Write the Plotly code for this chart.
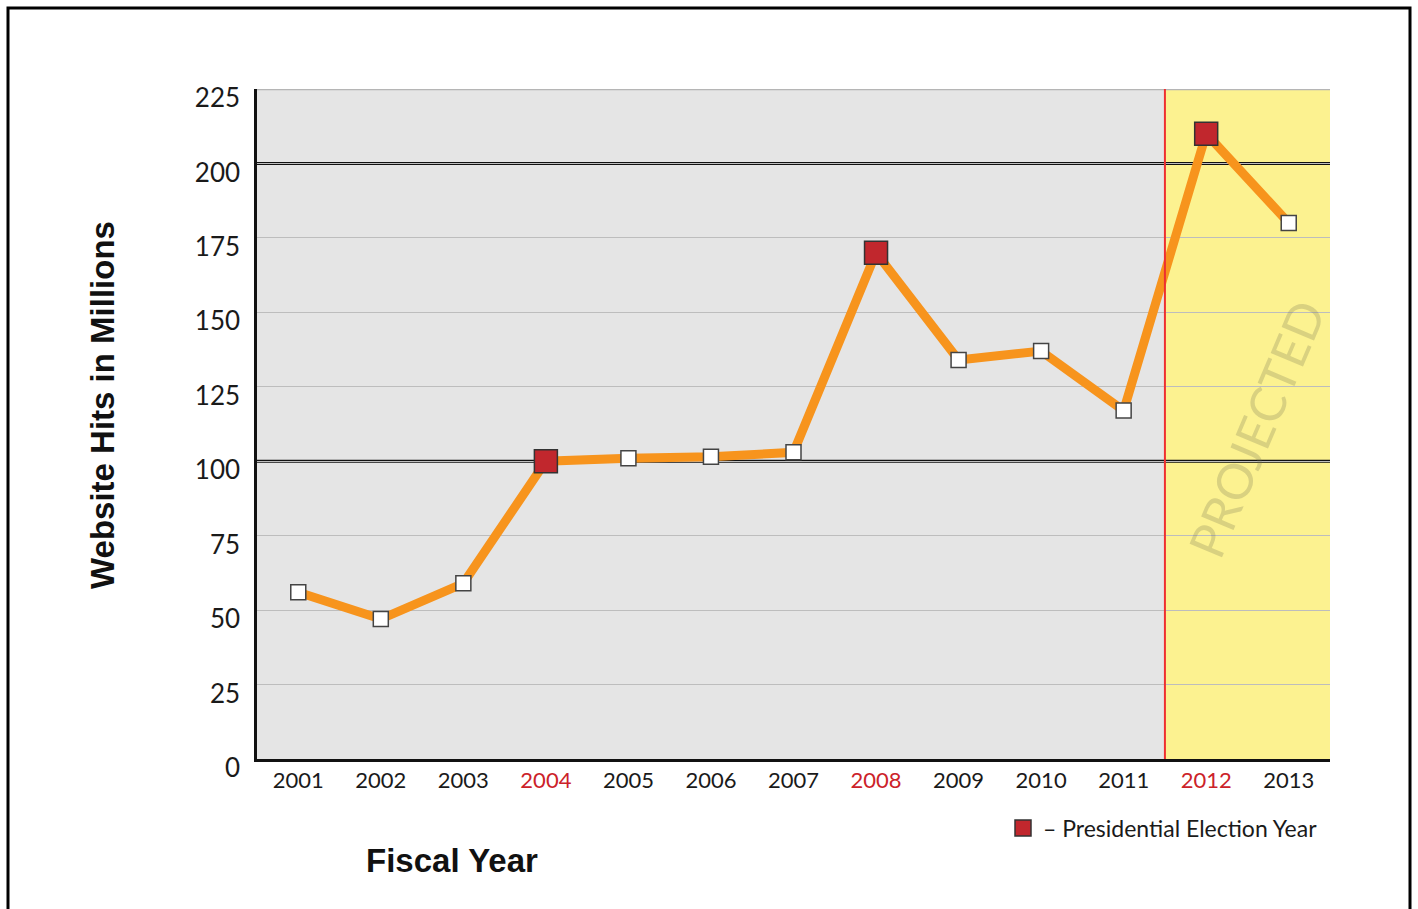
import plotly.graph_objects as go

# ---- data ----
years = [2001, 2002, 2003, 2004, 2005, 2006, 2007, 2008, 2009, 2010, 2011, 2012, 2013]
hits = [56, 47, 59, 100, 101, 101.5, 103, 170, 134, 137, 117, 210, 180]
election_years = [2004, 2008, 2012]
tick_labels = ["2001", "2002", "2003", "2004", "2005", "2006", "2007",
               "2008", "2009", "2010", "2011", "2012", "2013"]
y_ticks = [0, 25, 50, 75, 100, 125, 150, 175, 200, 225]
projection_start = 2011.5

RED = "#cc2229"
ORANGE = "#f7941d"

# ---- layout helpers (pixels -> paper) ----
W, H = 1418, 909
ML, MR, MT, MB = 257, 88, 89, 150
PW, PH = W - ML - MR, H - MT - MB


def px(x):
    return (x - ML) / PW


def py(y):
    return (H - MB - y) / PH


elec_set = set(election_years)
reg_x = [x for x in years if x not in elec_set]
reg_y = [v for x, v in zip(years, hits) if x not in elec_set]
el_x = [x for x in years if x in elec_set]
el_y = [v for x, v in zip(years, hits) if x in elec_set]

ticktext = [
    f'<span style="color:{RED}">{t}</span>' if y in elec_set else t
    for y, t in zip(years, tick_labels)
]

fig = go.Figure()
fig.add_trace(go.Scatter(x=years, y=hits, mode="lines",
                         line=dict(color=ORANGE, width=9),
                         showlegend=False, hoverinfo="skip"))
fig.add_trace(go.Scatter(x=reg_x, y=reg_y, mode="markers",
                         marker=dict(symbol="square", size=15, color="white",
                                     line=dict(color="#444444", width=1.5)),
                         showlegend=False))
fig.add_trace(go.Scatter(x=el_x, y=el_y, mode="markers",
                         name="\u2013 Presidential Election Year",
                         marker=dict(symbol="square", size=23, color="#c1272d",
                                     line=dict(color="#333333", width=1.5)),
                         showlegend=True))

shapes = [
    # projected region
    dict(type="rect", xref="x", yref="paper", x0=projection_start, x1=2013.5,
         y0=0, y1=1, fillcolor="#fcf290", line_width=0, layer="below"),
    # heavy gridlines
    dict(type="line", xref="paper", yref="y", x0=0, x1=1, y0=100, y1=100,
         line=dict(color="#111111", width=3), layer="between"),
    dict(type="line", xref="paper", yref="y", x0=0, x1=1, y0=200, y1=200,
         line=dict(color="#111111", width=3), layer="between"),
    # top edge
    dict(type="line", xref="paper", yref="y", x0=0, x1=1, y0=225, y1=225,
         line=dict(color="#b5b5b5", width=2.5), layer="between"),
    # projection divider
    dict(type="line", xref="x", yref="paper", x0=projection_start, x1=projection_start,
         y0=0, y1=1, line=dict(color="#ee3030", width=2), layer="above"),
    # outer frame
    dict(type="rect", xref="paper", yref="paper", x0=px(8), x1=px(1410),
         y0=py(8), y1=py(960), line=dict(color="black", width=3),
         fillcolor="rgba(0,0,0,0)", layer="above"),
]

annotations = [
    dict(text="<b>Website Hits in Millions</b>", xref="paper", yref="paper",
         x=px(102), y=py(405), textangle=-90, showarrow=False,
         font=dict(family="Liberation Sans", size=33, color="#111111"),
         xanchor="center", yanchor="middle"),
    dict(text="<b>Fiscal Year</b>", xref="paper", yref="paper",
         x=px(452), y=py(860), showarrow=False,
         font=dict(family="Liberation Sans", size=33, color="#111111"),
         xanchor="center", yanchor="middle"),
    dict(text="PROJECTED", xref="x", yref="y", x=2012.61, y=111,
         textangle=-67, showarrow=False,
         font=dict(family="Lato", size=49, color="rgba(110,110,80,0.25)"),
         xanchor="center", yanchor="middle"),
]

fig.update_layout(
    width=W, height=H,
    margin=dict(l=ML, r=MR, t=MT, b=MB),
    paper_bgcolor="white",
    plot_bgcolor="#e5e5e5",
    font=dict(family="Lato", color="#1a1a1a"),
    shapes=shapes,
    annotations=annotations,
    showlegend=True,
    legend=dict(x=px(1003), y=py(828), xanchor="left", yanchor="middle",
                font=dict(family="Lato", size=23, color="#1a1a1a"),
                bgcolor="rgba(0,0,0,0)", itemwidth=30),
    xaxis=dict(range=[2000.5, 2013.5], tickmode="array", tickvals=years,
               ticktext=ticktext, showgrid=False, zeroline=False,
               showline=True, linecolor="#111111", linewidth=3,
               ticks="", tickfont=dict(family="Lato", size=22, color="#1a1a1a"),
               ticklabelstandoff=0),
    yaxis=dict(range=[0, 225], tickmode="array", tickvals=y_ticks,
               showgrid=True, gridcolor="#bdbdbd", gridwidth=1.2,
               zeroline=False, showline=True, linecolor="#111111", linewidth=2.5,
               ticks="", tickfont=dict(family="Lato", size=26, color="#1a1a1a"),
               ticklabelstandoff=9, ticklabelshift=9),
)

fig.write_html("out.html")
